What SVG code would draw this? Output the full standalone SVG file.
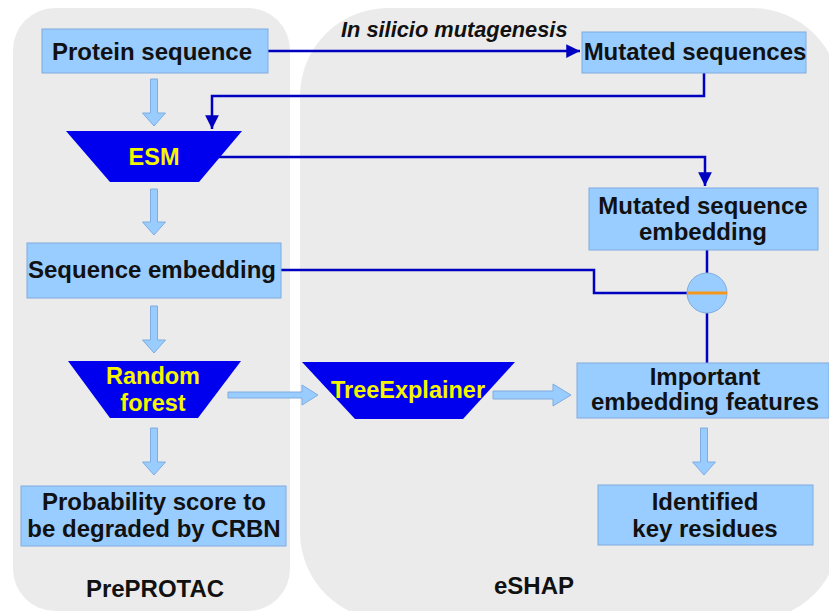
<svg xmlns="http://www.w3.org/2000/svg" width="829" height="611" viewBox="0 0 829 611">
<defs>
<style>
.panel{fill:#ebebeb;stroke:none}
.box{fill:#99ccff;stroke:#80acdf;stroke-width:1}
.trap{fill:#0000ee;stroke:none}
.t{font-family:"Liberation Sans",Arial,sans-serif;font-weight:bold;font-size:24px;fill:#111;text-anchor:middle}
.ty{font-family:"Liberation Sans",Arial,sans-serif;font-weight:bold;font-size:23.5px;fill:#f5f500;text-anchor:middle}
.lab{font-family:"Liberation Sans",Arial,sans-serif;font-weight:bold;font-size:24px;fill:#111;text-anchor:middle}
.it{font-family:"Liberation Sans",Arial,sans-serif;font-weight:bold;font-style:italic;font-size:21.8px;fill:#111}
.conn{fill:none;stroke:#0000c0;stroke-width:2.5}
.blk{fill:#99ccff;stroke:#80acdf;stroke-width:1}
</style>
<marker id="ah" viewBox="0 0 10 10" refX="10" refY="5" markerWidth="6.5" markerHeight="5.5" orient="auto" markerUnits="strokeWidth">
<path d="M0,0 L10,5 L0,10 z" fill="#0000c0"/>
</marker>
</defs>
<rect width="829" height="611" fill="#ffffff"/>
<g id="panel-preprotac"><rect class="panel" x="13" y="8" width="277" height="603" rx="42"/></g>
<g id="panel-eshap"><rect class="panel" x="300" y="8" width="540" height="612" rx="88"/></g>

<g id="connectors">
<path class="conn" d="M268,51 H580" marker-end="url(#ah)"/>
<path class="conn" d="M704,73 V96 H212 V129" marker-end="url(#ah)"/>
<path class="conn" d="M219,157 H705 V186" marker-end="url(#ah)"/>
<path class="conn" d="M281,270 H594 V293 H687"/>
<path class="conn" d="M707,250 V273 M707,313 V363"/>
<path class="blk" d="M150.5,79 h7 v34 h8 l-11.5,13 l-11.5,-13 h8 z"/>
<path class="blk" d="M150.5,189 h7 v33 h8 l-11.5,13 l-11.5,-13 h8 z"/>
<path class="blk" d="M150.5,306 h7 v34 h8 l-11.5,13 l-11.5,-13 h8 z"/>
<path class="blk" d="M150.5,428 h7 v34 h8 l-11.5,13 l-11.5,-13 h8 z"/>
<path class="blk" d="M700.5,428 h7 v34 h8 l-11.5,13 l-11.5,-13 h8 z"/>
<path class="blk" d="M228,392 h74 v-7 l16,10 l-16,10 v-7 h-74 z"/>
<path class="blk" d="M493,391 h60 v-7 l18,11 l-18,11 v-7 h-60 z"/>
</g>

<g id="in-silicio-label"><text class="it" x="341" y="37">In silicio mutagenesis</text></g>

<g id="protein-sequence"><rect class="box" x="42" y="29" width="226" height="44"/><text class="t" x="152" y="60">Protein sequence</text></g>
<g id="mutated-sequences"><rect class="box" x="582" y="32" width="224" height="41"/><text class="t" x="695" y="60">Mutated sequences</text></g>
<g id="esm"><path class="trap" d="M66,131 H242 L199,182 H110 z"/><text class="ty" x="154" y="165">ESM</text></g>
<g id="mutated-sequence-embedding"><rect class="box" x="589" y="188" width="229" height="62"/><text class="t" x="703" y="214">Mutated sequence</text><text class="t" x="703" y="240">embedding</text></g>
<g id="sequence-embedding"><rect class="box" x="27" y="243" width="254" height="55"/><text class="t" x="152" y="278">Sequence embedding</text></g>
<g id="subtract"><circle cx="707" cy="293" r="20" fill="#99ccff" stroke="#80acdf" stroke-width="1"/><line x1="687" y1="293" x2="727" y2="293" stroke="#f5961e" stroke-width="3"/></g>
<g id="random-forest"><path class="trap" d="M68,361 H241 L198,418 H110 z"/><text class="ty" x="153" y="384">Random</text><text class="ty" x="153" y="411">forest</text></g>
<g id="treeexplainer"><path class="trap" d="M302,362 H515 L463,419 H355 z"/><text class="ty" x="408" y="398">TreeExplainer</text></g>
<g id="important-embedding-features"><rect class="box" x="577" y="363" width="252" height="55"/><text class="t" x="705" y="385">Important</text><text class="t" x="705" y="410">embedding features</text></g>
<g id="probability-score"><rect class="box" x="21" y="486" width="265" height="60"/><text class="t" x="154" y="510">Probability score to</text><text class="t" x="154" y="537">be degraded by CRBN</text></g>
<g id="identified-key-residues"><rect class="box" x="598" y="485" width="215" height="60"/><text class="t" x="705" y="510">Identified</text><text class="t" x="705" y="537">key residues</text></g>
<g id="labels"><text class="lab" x="155" y="597">PrePROTAC</text><text class="lab" x="534" y="594">eSHAP</text></g>
</svg>
